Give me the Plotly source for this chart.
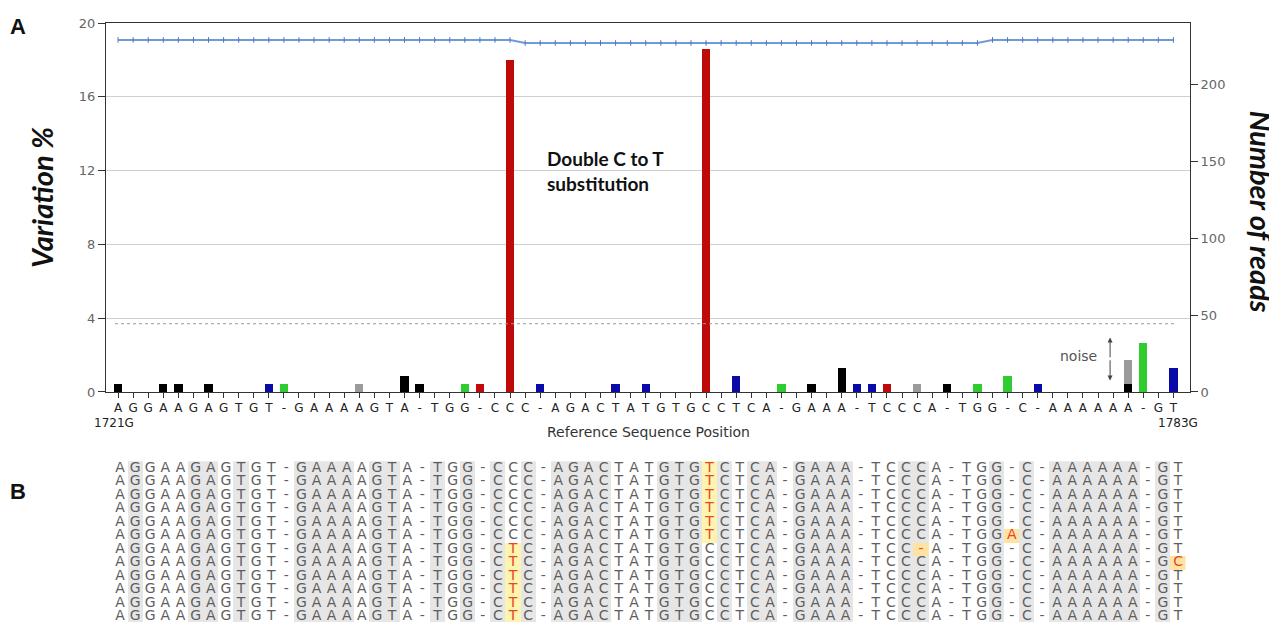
import plotly.graph_objects as go

# ---------------- data ----------------
ref_seq = list("AGGAAGAGTGT-GAAAAGTA-TGG-CCC-AGACTATGTGCCTCA-GAAA-TCCCA-TGG-C-AAAAAA-GT")
positions = list(range(len(ref_seq)))
start_label = "1721G"
end_label = "1783G"

# variation % bars, one series per colour
black_pos = [0, 3, 4, 6, 19, 20, 46, 48, 55, 67]
black_val = [0.43, 0.43, 0.43, 0.43, 0.88, 0.43, 0.43, 1.3, 0.43, 0.43]
gray_pos = [16, 53, 67]
gray_val = [0.43, 0.43, 1.3]
blue_pos = [10, 28, 33, 35, 41, 49, 50, 61, 70]
blue_val = [0.43, 0.43, 0.43, 0.43, 0.88, 0.43, 0.43, 0.43, 1.3]
green_pos = [11, 23, 44, 57, 59, 68]
green_val = [0.43, 0.43, 0.43, 0.43, 0.88, 2.65]
red_pos = [24, 26, 39, 51]
red_val = [0.43, 18.0, 18.6, 0.43]

# number of reads per position
reads = [229, 229, 229, 229, 229, 229, 229, 229, 229, 229,
         229, 229, 229, 229, 229, 229, 229, 229, 229, 229,
         229, 229, 229, 229, 229, 229, 229, 227, 227, 227,
         227, 227, 227, 227, 227, 227, 227, 227, 227, 227,
         227, 227, 227, 227, 227, 227, 227, 227, 227, 227,
         227, 227, 227, 227, 227, 227, 227, 227, 229, 229,
         229, 229, 229, 229, 229, 229, 229, 229, 229, 229,
         229]

noise_threshold = 3.7

# panel B alignment
n_rows = 12
variant_rows = [0, 1, 2, 3, 4, 5, 5, 6, 6, 7, 7, 8, 9, 10, 11]
variant_cols = [39, 39, 39, 39, 39, 39, 59, 26, 53, 26, 70, 26, 26, 26, 26]
variant_chars = ["T", "T", "T", "T", "T", "T", "A", "T", "-", "T", "C", "T", "T", "T", "T"]
variant_kind = [2, 2, 2, 2, 2, 2, 3, 2, 3, 2, 3, 2, 2, 2, 2]
shaded_cols = [1, 5, 6, 8, 12, 13, 14, 15, 17, 18, 21, 23, 25, 27, 29, 30, 31, 32,
               36, 37, 38, 40, 42, 43, 45, 46, 47, 48, 52, 53, 58, 60,
               62, 63, 64, 65, 66, 67, 69]

# ---------------- figure ----------------
fig = go.Figure()

bar_series = [
    (black_pos, black_val, "#000000"),
    (gray_pos, gray_val, "#9a9a9a"),
    (blue_pos, blue_val, "#0a0aa8"),
    (green_pos, green_val, "#2ecc2e"),
    (red_pos, red_val, "#bf0a0a"),
]
for px, pv, col in bar_series:
    fig.add_trace(go.Bar(x=px, y=pv, marker=dict(color=col, line=dict(width=0)),
                         width=0.55, xaxis="x", yaxis="y", showlegend=False))

fig.add_trace(go.Scatter(x=positions, y=reads, mode="lines+markers",
                         line=dict(color="#6f9bd6", width=2),
                         marker=dict(symbol="line-ns", size=4,
                                     line=dict(color="#4a78c0", width=1)),
                         xaxis="x", yaxis="y2", showlegend=False))

# panel B background
z = [[1 if c in shaded_cols else 0 for c in positions] for r in range(n_rows)]
for r, c, k in zip(variant_rows, variant_cols, variant_kind):
    z[r][c] = k
cs = [[0, "#ffffff"], [0.1667, "#ffffff"], [0.1667, "#e6e6e6"], [0.5, "#e6e6e6"],
      [0.5, "#fff3b0"], [0.8333, "#fff3b0"], [0.8333, "#ffe3a3"], [1, "#ffe3a3"]]
fig.add_trace(go.Heatmap(z=z, x=positions, y=list(range(n_rows)), colorscale=cs,
                         zmin=0, zmax=3, showscale=False, hoverinfo="skip",
                         xaxis="x2", yaxis="y3"))

tx, ty, tt, tc = [], [], [], []
var_map = {(r, c): ch for r, c, ch in zip(variant_rows, variant_cols, variant_chars)}
for r in range(n_rows):
    for c in positions:
        ch = var_map.get((r, c), ref_seq[c])
        tx.append(c)
        ty.append(r)
        tt.append(ch)
        tc.append("#e8461e" if (r, c) in var_map else "#5e5e5e")
fig.add_trace(go.Scatter(x=tx, y=ty, text=tt, mode="text",
                         textfont=dict(family="DejaVu Sans", size=14, color=tc),
                         textposition="middle center", hoverinfo="skip",
                         xaxis="x2", yaxis="y3", showlegend=False))

fig.add_shape(type="line", xref="x", yref="y", x0=positions[0] - 0.2, x1=positions[-1] + 0.1,
              y0=noise_threshold, y1=noise_threshold,
              line=dict(color="#9a9a9a", width=1, dash="dot"))

axis_font = dict(family="DejaVu Sans", size=13, color="#666666")
fig.update_layout(
    width=1269, height=614,
    margin=dict(l=98, r=87, t=15, b=0, autoexpand=False),
    paper_bgcolor="white", plot_bgcolor="white",
    barmode="stack", bargap=0,
    xaxis=dict(domain=[0, 1], range=[-0.8, 71.1], anchor="y", automargin=False,
               tickmode="array", tickvals=positions, ticktext=ref_seq,
               ticks="outside", ticklen=5, tickcolor="#333", tickwidth=1,
               tickfont=dict(family="DejaVu Sans", size=12, color="#222"),
               showline=True, linecolor="#333", linewidth=1, mirror=True,
               showgrid=False, zeroline=False),
    yaxis=dict(domain=[0.384, 1], range=[0, 20], tickvals=[0, 4, 8, 12, 16, 20],
               ticks="outside", ticklen=7, tickcolor="#333", automargin=False,
               tickfont=axis_font, showline=True, linecolor="#333",
               showgrid=True, gridcolor="#cfcfcf", gridwidth=1, zeroline=False),
    yaxis2=dict(overlaying="y", side="right", range=[0, 240], automargin=False,
                tickvals=[0, 50, 100, 150, 200], ticks="outside", ticklen=7,
                tickcolor="#333", tickfont=axis_font, showline=True,
                linecolor="#333", showgrid=False, zeroline=False),
    xaxis2=dict(domain=[0, 1], range=[-0.93, 70.79], anchor="y3", visible=False,
                automargin=False),
    yaxis3=dict(domain=[0, 0.2688], range=[11.37, -0.52], anchor="x2", visible=False,
                automargin=False),
)

ann = []
ann.append(dict(text="<b>A</b>", xref="paper", yref="paper", x=-0.0815, y=0.994,
                xanchor="center", yanchor="middle", showarrow=False,
                font=dict(family="Liberation Sans", size=22, color="#111")))
ann.append(dict(text="<b>B</b>", xref="paper", yref="paper", x=-0.0815, y=0.218,
                xanchor="center", yanchor="middle", showarrow=False,
                font=dict(family="Liberation Sans", size=22, color="#111")))
ann.append(dict(text="<b><i>Variation %</i></b>", xref="paper", yref="paper",
                x=-0.059, y=0.708, textangle=-90, showarrow=False,
                xanchor="center", yanchor="middle",
                font=dict(family="Lato", size=29, color="#111")))
ann.append(dict(text="<b><i>Number of reads</i></b>", xref="paper", yref="paper",
                x=1.0655, y=0.685, textangle=90, showarrow=False,
                xanchor="center", yanchor="middle",
                font=dict(family="Lato", size=29, color="#111")))
ann.append(dict(text="<b>Double C to T<br>substitution</b>", xref="x", yref="y",
                x=28.3, y=12.0, xanchor="left", yanchor="middle", align="left",
                showarrow=False, font=dict(family="Lato", size=19, color="#111")))
ann.append(dict(text="noise", xref="x", yref="y", x=63.7, y=1.95, showarrow=False,
                xanchor="center", yanchor="middle",
                font=dict(family="DejaVu Sans", size=14, color="#555")))
for head, tail in [(2.95, 1.8), (0.62, 1.8)]:
    ann.append(dict(text="", xref="x", yref="y", axref="x", ayref="y",
                    x=65.8, y=head, ax=65.8, ay=tail, showarrow=True,
                    arrowhead=2, arrowsize=1, arrowwidth=1, arrowcolor="#444"))
ann.append(dict(text=start_label, xref="x", yref="y", x=positions[0] - 0.3, y=0,
                yshift=-31, showarrow=False, xanchor="center", yanchor="middle",
                font=dict(family="DejaVu Sans", size=12, color="#222")))
ann.append(dict(text=end_label, xref="x", yref="y", x=positions[-1] + 0.3, y=0,
                yshift=-31, showarrow=False, xanchor="center", yanchor="middle",
                font=dict(family="DejaVu Sans", size=12, color="#222")))
ann.append(dict(text="Reference Sequence Position", xref="x", yref="y",
                x=35.2, y=0, yshift=-40, showarrow=False, xanchor="center",
                yanchor="middle", font=dict(family="DejaVu Sans", size=14, color="#333")))
fig.update_layout(annotations=ann)

fig.write_html("out.html")
